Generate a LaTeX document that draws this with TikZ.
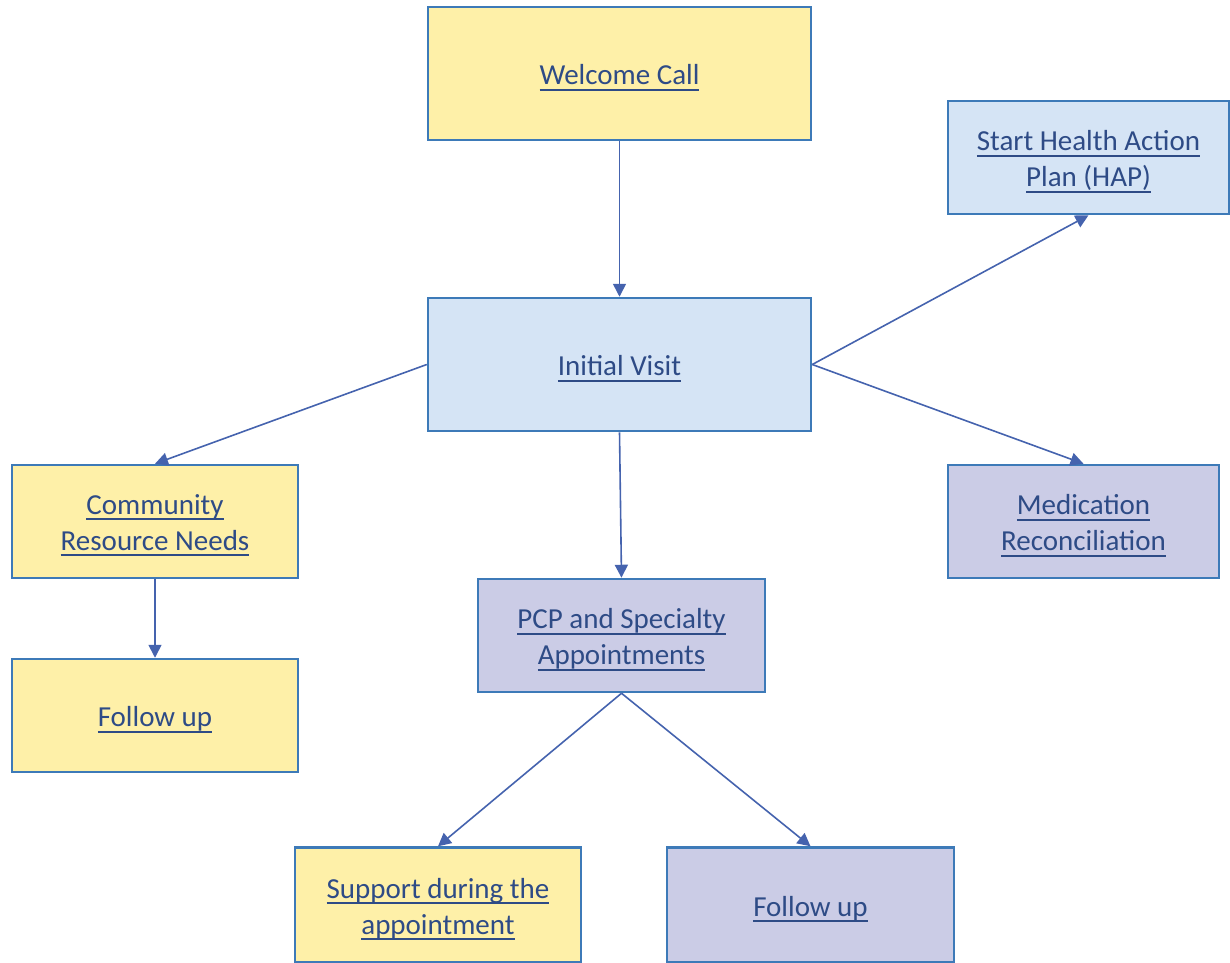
\documentclass[tikz,border=0pt]{standalone}
\usepackage{fontspec}
\setmainfont{Carlito}
\usetikzlibrary{arrows.meta}
\definecolor{yel}{HTML}{FEF0A8}
\definecolor{lblue}{HTML}{D5E4F5}
\definecolor{lav}{HTML}{CBCCE6}
\definecolor{bord}{HTML}{3D7AB8}
\definecolor{txt}{HTML}{2E4B86}
\definecolor{arr}{HTML}{4563AE}
\newcommand\ulx[1]{\setbox0\hbox{#1}\leavevmode\rlap{\rule[-6pt]{\wd0}{2pt}}\box0}
\tikzset{
  box/.style={draw=bord, line width=2.5pt, inner sep=0pt, minimum height=113pt},
  lbl/.style={align=center, text=txt, font=\fontsize{29}{36}\selectfont, inner sep=0pt, yshift=-4pt},
  ybox/.style={box, fill=yel},
  bbox/.style={box, fill=lblue},
  lbox/.style={box, fill=lav},
  con/.style={draw=arr, line width=1.6pt, -{Triangle[length=13pt,width=13pt]}}
}
\begin{document}
\begin{tikzpicture}[x=1pt,y=-1pt]
\useasboundingbox (0,0) rectangle (1230,962);
\clip (0,0) rectangle (1230,962);
\node[ybox, minimum width=383pt, minimum height=133pt, label={[lbl]center:\ulx{Welcome Call}}] (welcome) at (619.5,73.5) {};
\node[bbox, minimum width=383pt, minimum height=133pt, label={[lbl]center:\ulx{Initial Visit}}] (initial) at (619.5,364.5) {};
\node[bbox, minimum width=281pt, label={[lbl]center:{\ulx{Start Health Action}\\\ulx{Plan (HAP)}}}] (hap) at (1088.5,157.5) {};
\node[ybox, minimum width=286pt, label={[lbl]center:{\ulx{Community}\\\ulx{Resource Needs}}}] (community) at (155,521.5) {};
\node[lbox, minimum width=271pt, label={[lbl]center:{\ulx{Medication}\\\ulx{Reconciliation}}}] (medication) at (1083.5,521.5) {};
\node[lbox, minimum width=287pt, label={[lbl]center:{\ulx{PCP and Specialty}\\\ulx{Appointments}}}] (pcp) at (621.5,635.5) {};
\node[ybox, minimum width=286pt, label={[lbl]center:\ulx{Follow up}}] (follow1) at (155,715.5) {};
\node[ybox, minimum width=286pt, minimum height=115pt, label={[lbl]center:{\ulx{Support during the}\\\ulx{appointment}}}] (support) at (438,905) {};
\node[lbox, minimum width=287pt, minimum height=115pt, label={[lbl]center:\ulx{Follow up}}] (follow2) at (810.5,905) {};
\draw[con] (welcome.south) -- (initial.north);
\draw[con] (initial.east) -- (hap.south);
\draw[con] (initial.east) -- (medication.north);
\draw[con] (initial.west) -- (community.north);
\draw[con] (initial.south) -- (pcp.north);
\draw[con] (community.south) -- (follow1.north);
\draw[con] (pcp.south) -- (support.north);
\draw[con] (pcp.south) -- (follow2.north);
\end{tikzpicture}
\end{document}
